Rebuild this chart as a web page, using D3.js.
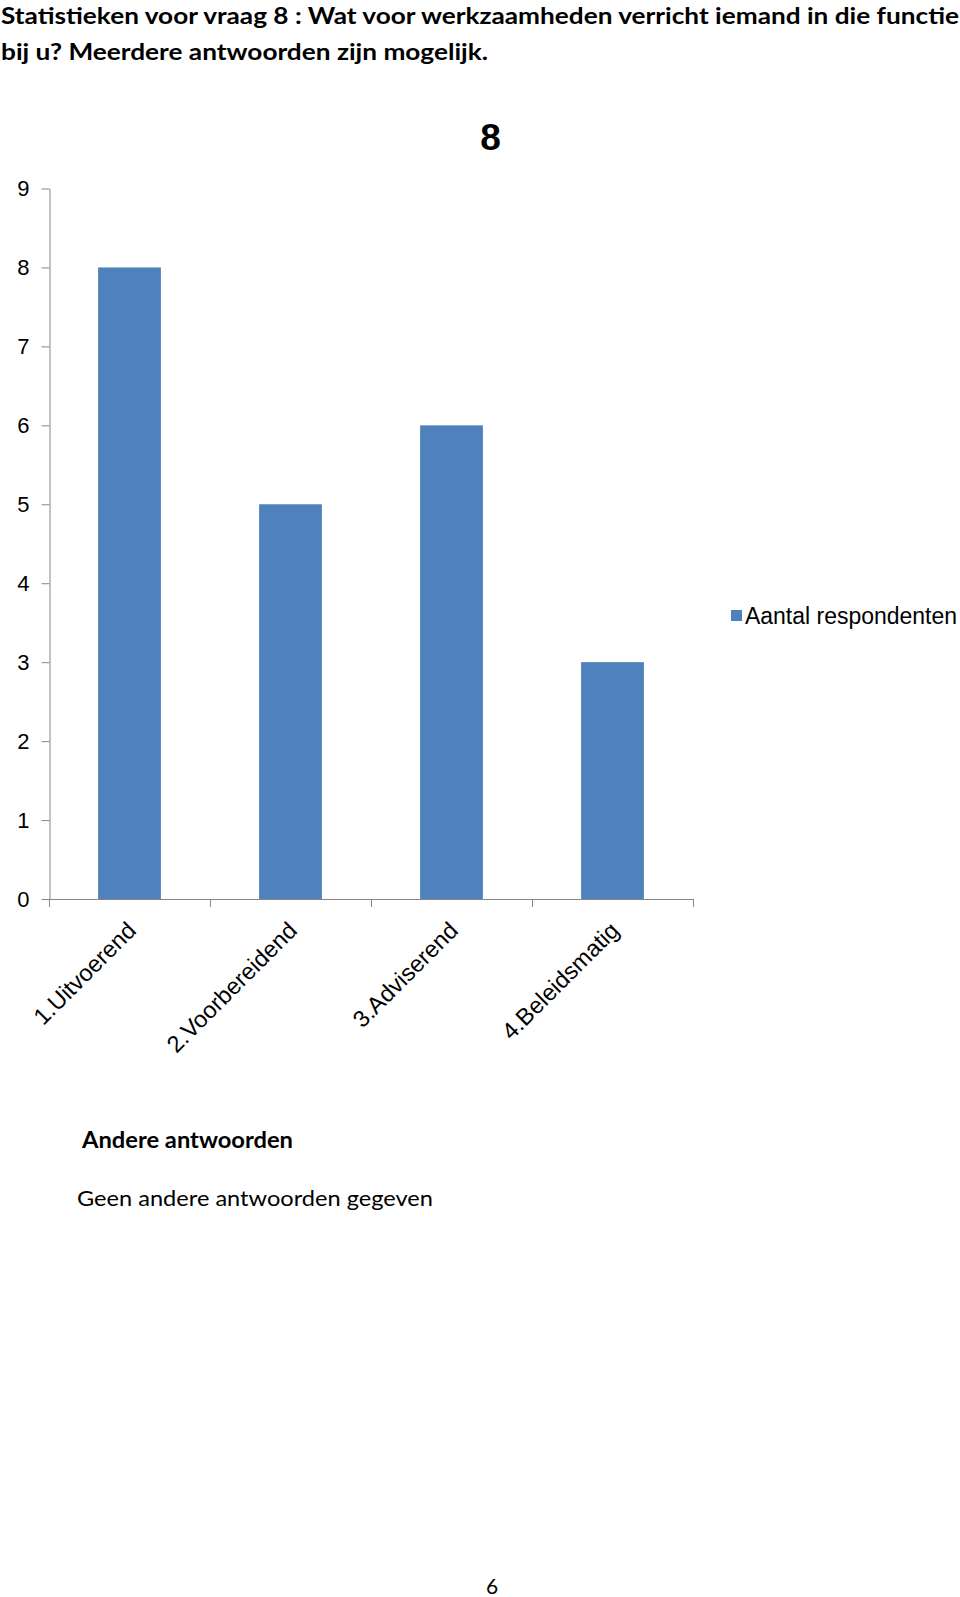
<!DOCTYPE html>
<html><head><meta charset="utf-8">
<script src="https://cdn.jsdelivr.net/npm/d3@7"></script>
<style>body{margin:0;background:#fff;} svg{display:block;}</style>
</head><body>
<svg id="c" width="960" height="1597"></svg>
<script>
const titleLines = [
  "Statistieken voor vraag 8 : Wat voor werkzaamheden verricht iemand in die functie",
  "bij u? Meerdere antwoorden zijn mogelijk."
];
const chartTitle = "8";
const categories = ["1.Uitvoerend", "2.Voorbereidend", "3.Adviserend", "4.Beleidsmatig"];
const values = [8, 5, 6, 3];
const yTicks = [0, 1, 2, 3, 4, 5, 6, 7, 8, 9];
const seriesName = "Aantal respondenten";
const otherHeading = "Andere antwoorden";
const otherText = "Geen andere antwoorden gegeven";
const pageNumber = "6";

const svg = d3.select("#c");
const docFont = "Lato, 'Open Sans', sans-serif";
const chartFont = "'Liberation Sans', Arial, sans-serif";
const barColor = "#4F81BD";
const axisColor = "#868686";

// document title
const titleLayout = [{y: 23.5, len: 958}, {y: 59.5, len: 487}];
svg.selectAll("text.title").data(titleLines).join("text")
  .attr("class", "title")
  .attr("x", 1).attr("y", (d, i) => titleLayout[i].y)
  .attr("textLength", (d, i) => titleLayout[i].len)
  .attr("lengthAdjust", "spacingAndGlyphs")
  .style("font-family", docFont).style("font-weight", 700).style("font-size", "23.5px")
  .attr("fill", "#000").text(d => d);

// scales
const x = d3.scaleBand().domain(categories).range([49, 693]).paddingInner(0.61).paddingOuter(0.305);
const y = d3.scaleLinear().domain([0, 9]).range([899, 188.5]);

// chart title
svg.append("text").attr("x", 490.5).attr("y", 150).attr("text-anchor", "middle")
  .style("font-family", chartFont).style("font-weight", 700).style("font-size", "37px")
  .text(chartTitle);

// bars
svg.selectAll("rect.bar").data(values).join("rect")
  .attr("class", "bar")
  .attr("x", (d, i) => x(categories[i]))
  .attr("width", x.bandwidth())
  .attr("y", d => y(d))
  .attr("height", d => y(0) - y(d))
  .attr("fill", barColor);

// y axis
const yAxis = svg.append("g").attr("transform", "translate(49.5,0)")
  .call(d3.axisLeft(y).tickValues(yTicks).tickSize(8).tickPadding(12).tickSizeOuter(0).tickFormat(d3.format("d")));
yAxis.select(".domain").attr("stroke", axisColor);
yAxis.selectAll(".tick line").attr("stroke", axisColor);
yAxis.selectAll(".tick text").style("font-family", chartFont).style("font-size", "22px").attr("fill", "#000");

// x axis (category boundaries)
const xr = x.range();
const boundaries = categories.map(c => x(c) - x.step() * x.paddingInner() / 2);
boundaries[0] = xr[0];
boundaries.push(xr[1]);
const xAxis = svg.append("g");
xAxis.append("line").attr("x1", xr[0]).attr("x2", xr[1]).attr("y1", y(0) + 0.5).attr("y2", y(0) + 0.5)
  .attr("stroke", axisColor);
xAxis.selectAll("line.tk").data(boundaries).join("line").attr("class", "tk")
  .attr("x1", d => Math.round(d) + 0.5).attr("x2", d => Math.round(d) + 0.5)
  .attr("y1", y(0)).attr("y2", y(0) + 8).attr("stroke", axisColor);
xAxis.selectAll("text").data(categories).join("text")
  .attr("transform", d => `translate(${x(d) + x.bandwidth() / 2 + 8},932) rotate(-45)`)
  .attr("text-anchor", "end")
  .style("font-family", chartFont).style("font-size", "23.5px").attr("fill", "#000")
  .text(d => d);

// legend
const lg = svg.append("g");
lg.append("rect").attr("x", 731).attr("y", 610).attr("width", 11).attr("height", 11).attr("fill", barColor);
lg.append("text").attr("x", 745).attr("y", 623.5)
  .attr("textLength", 212).attr("lengthAdjust", "spacingAndGlyphs")
  .style("font-family", chartFont).style("font-size", "23px").text(seriesName);

// other answers
svg.append("text").attr("x", 82).attr("y", 1148)
  .attr("textLength", 211).attr("lengthAdjust", "spacingAndGlyphs")
  .style("font-family", docFont).style("font-weight", 700).style("font-size", "22px").text(otherHeading);
svg.append("text").attr("x", 77).attr("y", 1206)
  .attr("textLength", 356).attr("lengthAdjust", "spacingAndGlyphs")
  .style("font-family", docFont).style("font-size", "22px").text(otherText);

// page number
svg.append("text").attr("x", 492).attr("y", 1594).attr("text-anchor", "middle")
  .style("font-family", docFont).style("font-size", "21px").text(pageNumber);
</script>
</body></html>
